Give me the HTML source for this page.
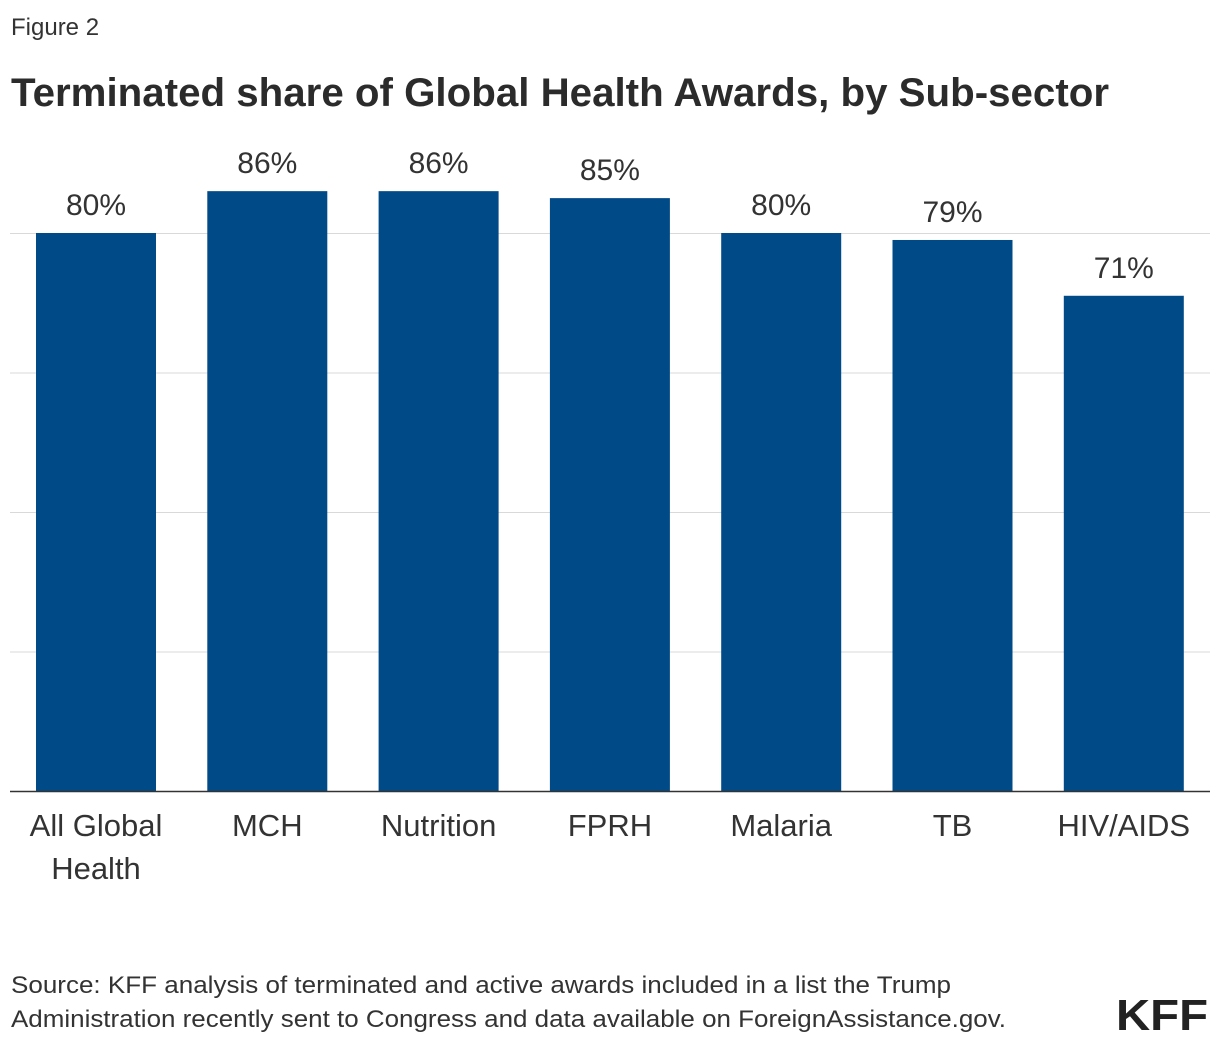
<!DOCTYPE html>
<html><head><meta charset="utf-8"><style>
html,body{margin:0;padding:0;background:#fff;}
svg{display:block;font-family:"Liberation Sans",sans-serif;}
</style></head><body>
<svg id="chart" width="1220" height="1046" viewBox="0 0 1220 1046">
<text x="11" y="35" font-size="24" fill="#333">Figure 2</text>
<text x="11" y="106" font-size="40" font-weight="bold" fill="#2b2b2b" textLength="1098" lengthAdjust="spacingAndGlyphs">Terminated share of Global Health Awards, by Sub-sector</text>
<g id="grid"></g>
<g id="bars"></g>
<line x1="10" x2="1210" y1="791.5" y2="791.5" stroke="#333" stroke-width="1.5"/>
<text x="11" y="993" font-size="24" fill="#333" textLength="940" lengthAdjust="spacingAndGlyphs">Source: KFF analysis of terminated and active awards included in a list the Trump</text>
<text x="11" y="1027" font-size="24" fill="#333" textLength="995" lengthAdjust="spacingAndGlyphs">Administration recently sent to Congress and data available on ForeignAssistance.gov.</text>
<text x="1208" y="1030" font-size="44" font-weight="bold" fill="#222" text-anchor="end" textLength="92" lengthAdjust="spacingAndGlyphs">KFF</text>
</svg>
<script>
const categories = [["All Global","Health"],["MCH"],["Nutrition"],["FPRH"],["Malaria"],["TB"],["HIV/AIDS"]];
const values = [80,86,86,85,80,79,71];
const valueLabels = ["80%","86%","86%","85%","80%","79%","71%"];
const gridTicks = [20,40,60,80];

const NS="http://www.w3.org/2000/svg";
const base=791, pxPer=6.975, x0=96, step=171.3, bw=120;
const y=v=>base-v*pxPer;
const xc=i=>x0+i*step;
function mk(tag,attrs,parent){const e=document.createElementNS(NS,tag);for(const k in attrs)e.setAttribute(k,attrs[k]);parent.appendChild(e);return e;}
const grid=document.getElementById('grid'), bars=document.getElementById('bars');
gridTicks.forEach(t=>{
  const l=mk('line',{x1:10,x2:1210,y1:y(t)+0.5,y2:y(t)+0.5,stroke:'#d9d9d9','stroke-width':1},grid);
  
  
});
values.forEach((v,i)=>{
  const r=mk('rect',{x:xc(i)-bw/2,y:y(v),width:bw,height:base-y(v),fill:'#004a87'},bars);
  
  
  const t=mk('text',{x:xc(i),y:y(v)-18,'font-size':30,fill:'#333','text-anchor':'middle'},bars);
  t.textContent=valueLabels[i];
  
  
  categories[i].forEach((line,j)=>{
    const c=mk('text',{x:xc(i),y:836+j*43,'font-size':31,fill:'#333','text-anchor':'middle'},bars);
    c.textContent=line;
    
    
  });
});
</script>
</body></html>
